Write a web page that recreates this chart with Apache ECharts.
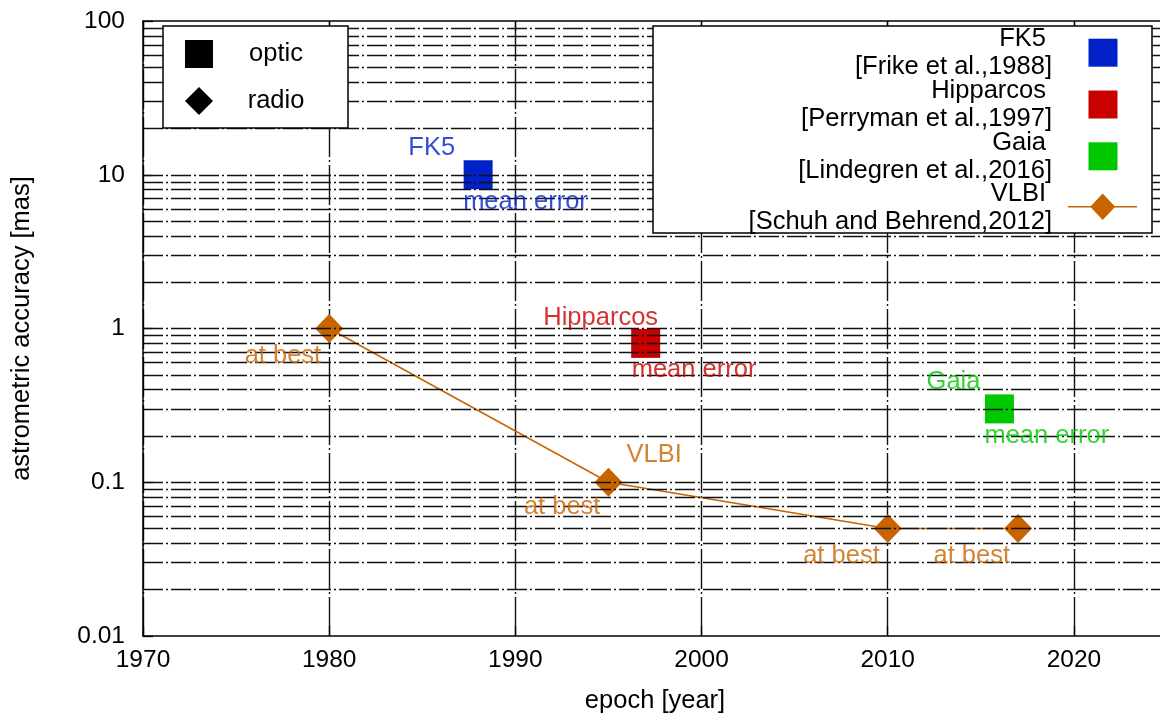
<!DOCTYPE html>
<html>
<head>
<meta charset="utf-8">
<script src="https://cdn.jsdelivr.net/npm/echarts@6/dist/echarts.min.js"></script>
<style>html,body{margin:0;padding:0;background:#fff}#c{width:1160px;height:715px}</style>
</head>
<body>
<div id="c"></div>
<script>
// ---- data ----
const fk5 = [[1988, 10]];
const hipparcos = [[1997, 0.8]];
const gaia = [[2016, 0.3]];
const vlbi = [[1980, 1], [1995, 0.1], [2010, 0.05], [2017, 0.05]];

// annotations: [x, y, text]
const fk5Notes = [[1988, 10, 'FK5'], [1988, 10, 'mean error']];
const hipNotes = [[1997, 0.8, 'Hipparcos'], [1997, 0.8, 'mean error']];
const gaiaNotes = [[2016, 0.3, 'Gaia'], [2016, 0.3, 'mean error']];
const vlbiNotes = [[1980, 1, 'at best'], [1995, 0.1, 'VLBI'], [1995, 0.1, 'at best'], [2010, 0.05, 'at best'], [2017, 0.05, 'at best']];

// legend texts
const keyLabels = ['optic', 'radio'];
const legendNames = ['FK5', 'Hipparcos', 'Gaia', 'VLBI'];
const legendRefs = ['[Frike et al.,1988]', '[Perryman et al.,1997]', '[Lindegren et al.,2016]', '[Schuh and Behrend,2012]'];

// axis ticks
const xTicks = { min: 1970, max: 2025, interval: 10 };
const yDecades = [0.01, 0.1, 1, 10, 100];

// ---- styles ----
const FONT = '"Liberation Sans", Arial, Helvetica, sans-serif';
const C = { fk5: '#0020c8', hip: '#c80000', gaia: '#00c800', vlbi: '#c86400' };
const noteStyle = {
  fk5: [{ align: 'right', dx: -23, dy: -27 }, { align: 'left', dx: -15, dy: 27 }],
  hip: [{ align: 'center', dx: -45, dy: -25 }, { align: 'left', dx: -14, dy: 27 }],
  gaia: [{ align: 'right', dx: -19, dy: -27 }, { align: 'left', dx: -15, dy: 27 }],
  vlbi: [{ align: 'right', dx: -8, dy: 27 }, { align: 'left', dx: 18, dy: -27 }, { align: 'right', dx: -8, dy: 25 },
         { align: 'right', dx: -8, dy: 27 }, { align: 'right', dx: -8, dy: 27 }]
};

// horizontal grid values (log minor + major)
const gridVals = [];
for (let i = 0; i < yDecades.length - 1; i++) {
  for (let m = 2; m <= 9; m++) gridVals.push(+(yDecades[i] * m).toPrecision(3));
  if (i > 0) gridVals.push(yDecades[i]);
}

function noteSeries(notes, styles, color) {
  return {
    type: 'scatter', symbolSize: 1, silent: true, z: 5,
    itemStyle: { color: 'rgba(0,0,0,0)' },
    data: notes.map((n, i) => ({
      value: [n[0], n[1]],
      label: {
        show: true, formatter: n[2], position: 'inside',
        align: styles[i].align, verticalAlign: 'middle',
        offset: [styles[i].dx, styles[i].dy],
        color: color, fontSize: 25.5, fontFamily: FONT
      }
    }))
  };
}

const chart = echarts.init(document.getElementById('c'), null, { renderer: 'canvas' });

const graphic = [];
// left key box
graphic.push({ type: 'rect', z: 100, shape: { x: 163, y: 26, width: 185, height: 102 },
  style: { fill: '#fff', stroke: '#000', lineWidth: 1.5 } });
graphic.push({ type: 'rect', z: 101, shape: { x: 185, y: 40, width: 28, height: 28 }, style: { fill: '#000' } });
graphic.push({ type: 'polygon', z: 101, shape: { points: [[199, 87], [213, 101], [199, 115], [185, 101]] }, style: { fill: '#000' } });
keyLabels.forEach((t, i) => graphic.push({ type: 'text', z: 101,
  style: { text: t, x: 276, y: 54 + i * 47, align: 'center', verticalAlign: 'middle', fill: '#000', font: '25.5px ' + FONT } }));
// right legend box
graphic.push({ type: 'rect', z: 100, shape: { x: 653, y: 26, width: 499, height: 207 },
  style: { fill: '#fff', stroke: '#000', lineWidth: 1.5 } });
const legColors = [C.fk5, C.hip, C.gaia, C.vlbi];
legendNames.forEach((t, i) => {
  const y0 = 39 + i * 51.8;
  graphic.push({ type: 'text', z: 101,
    style: { text: t, x: 1046, y: y0, align: 'right', verticalAlign: 'middle', fill: '#000', font: '25.5px ' + FONT } });
  graphic.push({ type: 'text', z: 101,
    style: { text: legendRefs[i], x: 1052, y: y0 + 28, align: 'right', verticalAlign: 'middle', fill: '#000', font: '25.5px ' + FONT } });
  const cy = 52.7 + i * 51.8;
  if (i < 3) {
    graphic.push({ type: 'rect', z: 101, shape: { x: 1088.5, y: cy - 14, width: 29, height: 28 }, style: { fill: legColors[i] } });
  } else {
    graphic.push({ type: 'line', z: 101, shape: { x1: 1068, y1: 206.7, x2: 1137, y2: 206.7 }, style: { stroke: C.vlbi, lineWidth: 1.5 } });
    graphic.push({ type: 'polygon', z: 102, shape: { points: [[1102.7, 193.4], [1115.2, 206.7], [1102.7, 220], [1090.2, 206.7]] }, style: { fill: C.vlbi } });
  }
});

const option = {
  backgroundColor: '#fff',
  animation: false,
  grid: { left: 143, top: 21, width: 1024, height: 615, show: false, outerBoundsMode: 'none', containLabel: false },
  xAxis: [{
    type: 'value', min: xTicks.min, max: xTicks.max, interval: xTicks.interval,
    name: 'epoch [year]', nameLocation: 'middle', nameGap: 52,
    nameTextStyle: { color: '#000', fontSize: 25.5, fontFamily: FONT },
    axisLine: { show: true, onZero: false, lineStyle: { color: '#000', width: 1.5 } },
    axisTick: { show: true, inside: true, length: 10, lineStyle: { color: '#000', width: 1.3 } },
    axisLabel: { color: '#000', fontSize: 24.5, fontFamily: FONT, margin: 12, showMaxLabel: false,
      formatter: v => String(v) },
    splitLine: { show: true, lineStyle: { color: '#111', width: 1.4, type: [40, 3, 2, 3] } }
  }, {
    type: 'value', position: 'top', min: xTicks.min, max: xTicks.max, interval: xTicks.interval,
    axisLine: { show: true, onZero: false, lineStyle: { color: '#000', width: 1.5 } },
    axisTick: { show: true, inside: true, length: 10, lineStyle: { color: '#000', width: 1.3 } },
    axisLabel: { show: false }, splitLine: { show: false }
  }],
  yAxis: {
    type: 'log', logBase: 10, min: yDecades[0], max: yDecades[yDecades.length - 1],
    name: 'astrometric accuracy [mas]', nameLocation: 'middle', nameGap: 108,
    nameTextStyle: { color: '#000', fontSize: 25.5, fontFamily: FONT },
    axisLine: { show: true, onZero: false, lineStyle: { color: '#000', width: 1.5 } },
    axisTick: { show: true, inside: true, length: 10, lineStyle: { color: '#000', width: 1.3 } },
    axisLabel: { color: '#000', fontSize: 24.5, fontFamily: FONT, margin: 18,
      formatter: v => String(+v.toPrecision(3)) },
    splitLine: { show: false }
  },
  graphic: graphic,
  series: [
    {
      name: 'grid', type: 'line', data: [], silent: true, z: 1,
      markLine: {
        silent: true, symbol: 'none', label: { show: false }, animation: false,
        lineStyle: { color: '#111', width: 1.4, type: [20, 3, 2, 3] },
        data: gridVals.map(v => ({ yAxis: v }))
      }
    },
    {
      name: 'VLBI', type: 'line', data: vlbi, z: 3,
      lineStyle: { color: C.vlbi, width: 1.5 }, itemStyle: { color: C.vlbi },
      symbol: 'diamond', symbolSize: [28, 29], showSymbol: true
    },
    { name: 'FK5', type: 'scatter', data: fk5, symbol: 'rect', symbolSize: 29, itemStyle: { color: C.fk5, opacity: 1 }, z: 3 },
    { name: 'Hipparcos', type: 'scatter', data: hipparcos, symbol: 'rect', symbolSize: 29, itemStyle: { color: C.hip, opacity: 1 }, z: 3 },
    { name: 'Gaia', type: 'scatter', data: gaia, symbol: 'rect', symbolSize: 29, itemStyle: { color: C.gaia, opacity: 1 }, z: 3 },
    noteSeries(fk5Notes, noteStyle.fk5, C.fk5),
    noteSeries(hipNotes, noteStyle.hip, C.hip),
    noteSeries(gaiaNotes, noteStyle.gaia, C.gaia),
    noteSeries(vlbiNotes, noteStyle.vlbi, C.vlbi)
  ]
};
chart.setOption(option);
</script>
</body>
</html>
